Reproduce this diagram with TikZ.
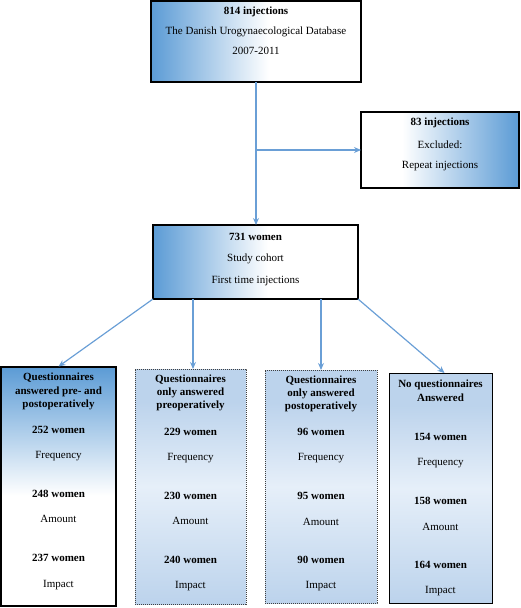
\documentclass[tikz,border=0pt]{standalone}
\usepackage{fontspec}
\setmainfont{Liberation Serif}
\usetikzlibrary{arrows.meta}
\definecolor{myblue}{HTML}{5B9BD5}
\definecolor{lineblue}{HTML}{6A9FD6}
\definecolor{lba}{HTML}{BCD3EC}
\definecolor{lbb}{HTML}{E6EFF9}
\pgfdeclarehorizontalshading{bluewhite}{100bp}{color(0bp)=(myblue); color(25bp)=(myblue); color(53bp)=(white); color(100bp)=(white)}
\pgfdeclarehorizontalshading{whiteblue}{100bp}{color(0bp)=(white); color(38bp)=(white); color(75bp)=(myblue); color(100bp)=(myblue)}
\pgfdeclareverticalshading{bluetop}{100bp}{color(0bp)=(white); color(48bp)=(white); color(75bp)=(myblue); color(100bp)=(myblue)}
\pgfdeclareverticalshading{lightbox}{100bp}{color(0bp)=(lba); color(25bp)=(lba); color(50bp)=(lbb); color(68bp)=(lba); color(100bp)=(lba)}
\tikzset{
  box/.style={draw=black, inner sep=0pt, outer sep=0pt},
  thickbox/.style={box, line width=2pt},
  txt/.style={font=\fontsize{11}{12}\selectfont, inner sep=0pt},
  btxt/.style={font=\fontsize{11}{12}\selectfont\bfseries, inner sep=0pt},
  conn/.style={draw=lineblue, line width=1.2pt, -{Stealth[length=7pt,width=6pt]}},
  dashbox/.style={box, draw=black!75, line width=0.8pt, dash pattern=on 1.2pt off 0.8pt, shade, shading=lightbox}
}
\begin{document}
\begin{tikzpicture}[x=1pt,y=-1pt]
\useasboundingbox (0,0) rectangle (520,608);
% boxes
\node[thickbox, shade, shading=bluewhite, minimum width=210pt, minimum height=81pt] (top) at (256,41.5) {};
\node[box, line width=1.3pt, shade, shading=whiteblue, minimum width=158pt, minimum height=76pt] (exc) at (440,150) {};
\node[thickbox, shade, shading=bluewhite, minimum width=205pt, minimum height=74pt] (mid) at (255.5,262) {};
\node[thickbox, shade, shading=bluetop, minimum width=115pt, minimum height=239pt] (b1) at (58.5,486) {};
\node[dashbox, minimum width=111pt, minimum height=235pt] (b2) at (190.5,486.5) {};
\node[dashbox, minimum width=112pt, minimum height=233pt] (b3) at (321,486.5) {};
\node[box, line width=0.9pt, shade, shading=lightbox, minimum width=103pt, minimum height=230pt] (b4) at (440.5,488) {};
% top text
\node[btxt] (ta) at (256,12) {814 injections};
\node[txt] (tb) at (256,32) {The Danish Urogynaecological Database};
\node[txt] (tc) at (256,51) {2007-2011};
% excluded text
\node[btxt] (ea) at (440,123) {83 injections};
\node[txt] (eb) at (440,145) {Excluded:};
\node[txt] (ec) at (440,166) {Repeat injections};
% middle text
\node[btxt] (ma) at (255.5,237) {731 women};
\node[txt] (mb) at (255.5,259) {Study cohort};
\node[txt] (mc) at (255.5,281) {First time injections};
% box 1
\node[btxt] (p1) at (58.5,378) {Questionnaires};
\node[btxt] (p2) at (58.5,392) {answered pre- and};
\node[btxt] (p3) at (58.5,405) {postoperatively};
\node[btxt] (p4) at (58.5,430) {252 women};
\node[txt]  (p5) at (58.5,456) {Frequency};
\node[btxt] (p6) at (58.5,494) {248 women};
\node[txt]  (p7) at (58.5,519) {Amount};
\node[btxt] (p8) at (58.5,558) {237 women};
\node[txt]  (p9) at (58.5,585) {Impact};
% box 2
\node[btxt] (q1) at (190.5,380) {Questionnaires};
\node[btxt] (q2) at (190.5,393) {only answered};
\node[btxt] (q3) at (190.5,406) {preoperatively};
\node[btxt] (q4) at (190.5,432) {229 women};
\node[txt]  (q5) at (190.5,458) {Frequency};
\node[btxt] (q6) at (190.5,496) {230 women};
\node[txt]  (q7) at (190.5,521) {Amount};
\node[btxt] (q8) at (190.5,560) {240 women};
\node[txt]  (q9) at (190.5,586) {Impact};
% box 3
\node[btxt] (r1) at (321,381) {Questionnaires};
\node[btxt] (r2) at (321,394) {only answered};
\node[btxt] (r3) at (321,407) {postoperatively};
\node[btxt] (r4) at (321,432) {96 women};
\node[txt]  (r5) at (321,458) {Frequency};
\node[btxt] (r6) at (321,496) {95 women};
\node[txt]  (r7) at (321,522) {Amount};
\node[btxt] (r8) at (321,560) {90 women};
\node[txt]  (r9) at (321,586) {Impact};
% box 4
\node[btxt] (s1) at (440.5,385) {No questionnaires};
\node[btxt] (s2) at (440.5,398) {Answered};
\node[btxt] (s4) at (440.5,437) {154 women};
\node[txt]  (s5) at (440.5,463) {Frequency};
\node[btxt] (s6) at (440.5,501) {158 women};
\node[txt]  (s7) at (440.5,527) {Amount};
\node[btxt] (s8) at (440.5,565) {164 women};
\node[txt]  (s9) at (440.5,591) {Impact};
% connectors
\coordinate (br) at (top.south |- exc.west);
\draw[conn] (top.south) -- (top.south |- mid.north);
\draw[conn] (br) -- (exc.west);
\draw[conn] (mid.south west) -- (b1.north);
\draw[conn] ([xshift=2.5pt]b2.north |- mid.south) -- ([xshift=2.5pt]b2.north);
\draw[conn] (b3.north |- mid.south) -- (b3.north);
\draw[conn] (mid.south east) -- ([xshift=4pt]b4.north);
\end{tikzpicture}
\end{document}
